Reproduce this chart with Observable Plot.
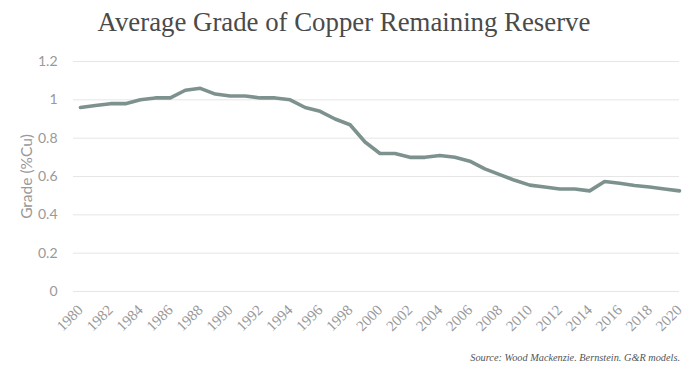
<!DOCTYPE html>
<html>
<head>
<meta charset="utf-8">
<script src="https://cdn.jsdelivr.net/npm/d3@7"></script>
<script src="https://cdn.jsdelivr.net/npm/@observablehq/plot@0.6"></script>
<style>
  body { margin: 0; background: #fff; width: 690px; height: 370px; overflow: hidden; }
  #title { height: 45px; text-align: center; font-family: "Liberation Serif", serif; font-size: 26.8px; color: #4a4a4a; line-height: 44px; letter-spacing: 0px; padding-right: 2px; }
  #source { text-align: right; padding-right: 10px; font-family: "Liberation Serif", serif; font-style: italic; font-size: 10.3px; color: #555; margin-top: 7px; }
  svg { display: block; }
</style>
</head>
<body>
<div id="title">Average Grade of Copper Remaining Reserve</div>
<div id="chart"></div>
<div id="source">Source: Wood Mackenzie. Bernstein. G&amp;R models.</div>
<script>
const years = d3.range(1980, 2021);
const grade = [0.96, 0.97, 0.98, 0.98, 1.00, 1.01, 1.01, 1.05, 1.06, 1.03,
               1.02, 1.02, 1.01, 1.01, 1.00, 0.96, 0.94, 0.90, 0.87, 0.78,
               0.72, 0.72, 0.70, 0.70, 0.71, 0.70, 0.68, 0.64, 0.61, 0.58,
               0.555, 0.545, 0.535, 0.535, 0.525, 0.574, 0.565, 0.553, 0.545, 0.535, 0.525];
const yTicks = [0, 0.2, 0.4, 0.6, 0.8, 1, 1.2];
const xTicks = d3.range(1980, 2021, 2);
const data = years.map((y, i) => ({year: y, grade: grade[i]}));

const chart = Plot.plot({
  width: 690,
  height: 300,
  marginLeft: 80,
  marginRight: 11,
  marginTop: 16,
  marginBottom: 54,
  style: {fontFamily: "Lato, sans-serif", color: "#999", background: "#fff"},
  x: {domain: [1980, 2020]},
  y: {domain: [0, 1.2]},
  marks: [
    Plot.ruleY(yTicks, {stroke: "#e6e6e6", strokeWidth: 1, insetLeft: -7}),
    Plot.axisY({ticks: yTicks, tickFormat: d => String(d), tickSize: 0, tickPadding: 23, fontSize: 14, fill: "#999", label: null}),
    Plot.axisY({ticks: [], fontSize: 15.5, fill: "#999",
      label: "Grade (%Cu)", labelAnchor: "center", labelArrow: "none", labelOffset: 60}),
    Plot.axisX({ticks: xTicks, tickFormat: d => String(d), tickSize: 0, tickPadding: 16, tickRotate: -45,
      fontSize: 15, fontFamily: "Liberation Serif, serif", fill: "#999", label: null}),
    Plot.line(data, {x: "year", y: "grade", stroke: "#7d928e", strokeWidth: 3.6, strokeLinejoin: "round"})
  ]
});
document.getElementById("chart").appendChild(chart);
</script>
</body>
</html>
